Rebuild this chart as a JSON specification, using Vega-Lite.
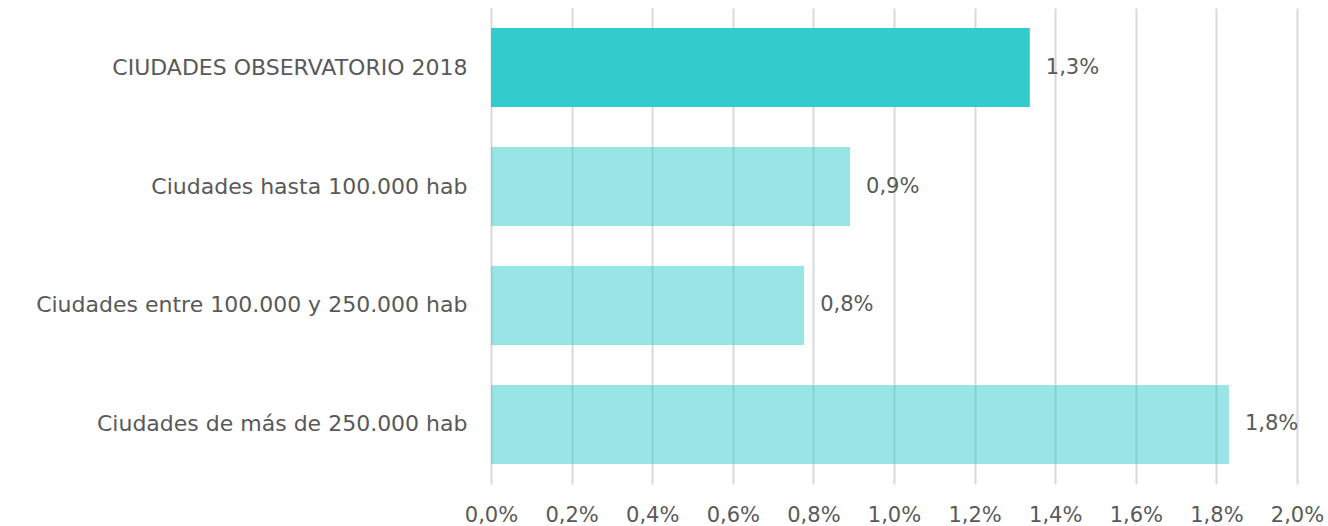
{
  "$schema": "https://vega.github.io/schema/vega-lite/v6.json",
  "autosize": {"type": "none"},
  "width": 806,
  "height": 476,
  "padding": {"left": 491, "top": 8, "right": 31, "bottom": 42},
  "background": "white",
  "data": {
    "values": [
      {"grupo": "CIUDADES OBSERVATORIO 2018", "valor": 0.01337, "destacado": "si"},
      {"grupo": "Ciudades hasta 100.000 hab", "valor": 0.00891, "destacado": "no"},
      {"grupo": "Ciudades entre 100.000 y 250.000 hab", "valor": 0.00777, "destacado": "no"},
      {"grupo": "Ciudades de más de 250.000 hab", "valor": 0.01831, "destacado": "no"}
    ]
  },
  "config": {
    "view": {"stroke": null},
    "font": "DejaVu Sans",
    "locale": {
      "number": {"decimal": ",", "thousands": ".", "grouping": [3], "currency": ["", " €"]}
    }
  },
  "encoding": {
    "y": {
      "field": "grupo",
      "type": "nominal",
      "sort": null,
      "title": null,
      "scale": {"paddingInner": 0.335, "paddingOuter": 0.168},
      "axis": {
        "domain": false,
        "ticks": false,
        "grid": false,
        "labelFontSize": 22,
        "labelColor": "#595959",
        "labelPadding": 24,
        "labelLimit": 600
      }
    },
    "x": {
      "field": "valor",
      "type": "quantitative",
      "title": null,
      "scale": {"domain": [0, 0.02], "nice": false},
      "axis": {
        "values": [0, 0.002, 0.004, 0.006, 0.008, 0.01, 0.012, 0.014, 0.016, 0.018, 0.02],
        "format": ".1%",
        "labelFlush": false,
        "labelOverlap": false,
        "domain": false,
        "ticks": false,
        "grid": true,
        "gridColor": "#d9d9d9",
        "gridWidth": 2,
        "labelFontSize": 21,
        "labelColor": "#595959",
        "labelPadding": 20
      }
    }
  },
  "layer": [
    {
      "mark": {"type": "bar", "color": "#33CCCC"},
      "encoding": {
        "opacity": {
          "field": "destacado",
          "type": "nominal",
          "scale": {"domain": ["si", "no"], "range": [1, 0.5]},
          "legend": null
        }
      }
    },
    {
      "mark": {"type": "text", "align": "left", "baseline": "middle", "dx": 16, "fontSize": 21, "color": "#595959"},
      "encoding": {
        "text": {"field": "valor", "type": "quantitative", "format": ".1%"}
      }
    }
  ]
}
